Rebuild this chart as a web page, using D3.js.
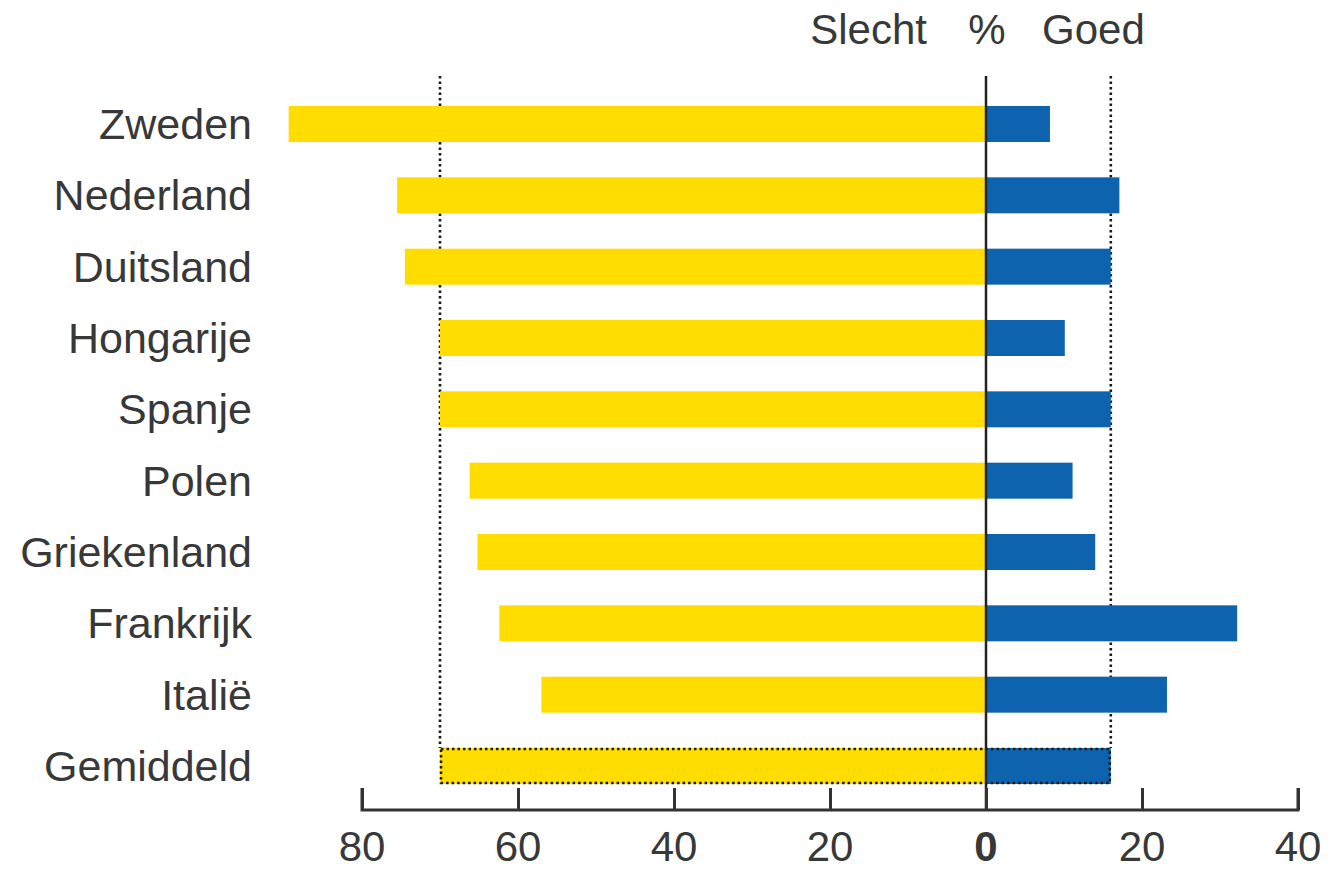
<!DOCTYPE html>
<html><head><meta charset="utf-8">
<script src="https://cdn.jsdelivr.net/npm/d3@7"></script>
<style>
html,body{margin:0;padding:0;background:#fff;}
text{font-family:"Liberation Sans",Arial,sans-serif;fill:#383838;}
</style></head>
<body><svg id="chart" width="1331" height="871"></svg>
<script>
const countries = ["Zweden","Nederland","Duitsland","Hongarije","Spanje","Polen","Griekenland","Frankrijk","Italië","Gemiddeld"];
const slecht = [89.4, 75.5, 74.5, 70, 70, 66.2, 65.2, 62.4, 57, 70];
const goed   = [8.2, 17.1, 16, 10.1, 16, 11.1, 14, 32.2, 23.2, 16];
const tickValues = [-80,-60,-40,-20,0,20,40];
const tickLabels = ["80","60","40","20","0","20","40"];
const avgSlecht = 70, avgGoed = 16;

const svg = d3.select("#chart");
const x = d3.scaleLinear().domain([-80, 40]).range([362, 1298]);
const y = d3.scalePoint().domain(countries).range([124, 766]);
const barH = 36;
const YELLOW = "#FFDD00", BLUE = "#0E63AF";
const DOTS = "2.5,3";

// dotted average lines
[-avgSlecht, avgGoed].forEach(v => {
  svg.append("line").attr("x1", x(v)).attr("x2", x(v))
    .attr("y1", 76).attr("y2", y("Gemiddeld") - barH/2)
    .attr("stroke", "#1a1a1a").attr("stroke-width", 2.6).attr("stroke-dasharray", DOTS);
});

// bars
const rows = countries.map((c,i) => ({c, s: slecht[i], g: goed[i]}));
svg.selectAll("rect.s").data(rows).join("rect").attr("class","s")
  .attr("x", d => x(-d.s)).attr("width", d => x(0) - x(-d.s))
  .attr("y", d => y(d.c) - barH/2).attr("height", barH)
  .attr("fill", YELLOW);
svg.selectAll("rect.g").data(rows).join("rect").attr("class","g")
  .attr("x", x(0)).attr("width", d => x(d.g) - x(0))
  .attr("y", d => y(d.c) - barH/2).attr("height", barH)
  .attr("fill", BLUE);

// dotted outline for average row
const avg = rows[rows.length-1];
svg.append("rect").attr("x", x(-avg.s)+1).attr("width", x(avg.g) - x(-avg.s) - 2)
  .attr("y", y(avg.c) - barH/2 + 1).attr("height", barH - 2)
  .attr("fill", "none").attr("stroke", "#1a1a1a").attr("stroke-width", 2.6)
  .attr("stroke-dasharray", DOTS);

// zero line
svg.append("line").attr("x1", x(0)).attr("x2", x(0)).attr("y1", 76).attr("y2", 810)
  .attr("stroke", "#222").attr("stroke-width", 2.5);

// category labels
svg.selectAll("text.cat").data(countries).join("text").attr("class","cat")
  .attr("x", 252).attr("y", d => y(d)).attr("dy", "0.35em")
  .attr("text-anchor", "end").attr("font-size", 43).text(d => d);

// axis
const axisG = svg.append("g").attr("transform", "translate(0,810)");
const axis = d3.axisTop(x).tickValues(tickValues).tickSize(22).tickFormat("");
axisG.call(axis);
axisG.select(".domain").attr("d", `M${x(-80)},-22V0H${x(40)}V-22`).attr("stroke", "#333").attr("stroke-width", 3).attr("fill","none");
axisG.selectAll(".tick line").attr("stroke", "#333").attr("stroke-width", 3);
svg.selectAll("text.tick").data(tickValues).join("text").attr("class","tick")
  .attr("x", d => x(d)).attr("y", 861).attr("text-anchor", "middle")
  .attr("font-size", 42).attr("font-weight", (d) => d === 0 ? "bold" : "normal")
  .text((d,i) => tickLabels[i]);

// header
svg.append("text").attr("x", x(0)+1).attr("y", 44).attr("text-anchor","middle").attr("font-size", 42).text("%");
svg.append("text").attr("x", 927).attr("y", 44).attr("text-anchor","end").attr("font-size", 42).text("Slecht");
svg.append("text").attr("x", 1042).attr("y", 44).attr("text-anchor","start").attr("font-size", 42).text("Goed");
</script></body></html>
